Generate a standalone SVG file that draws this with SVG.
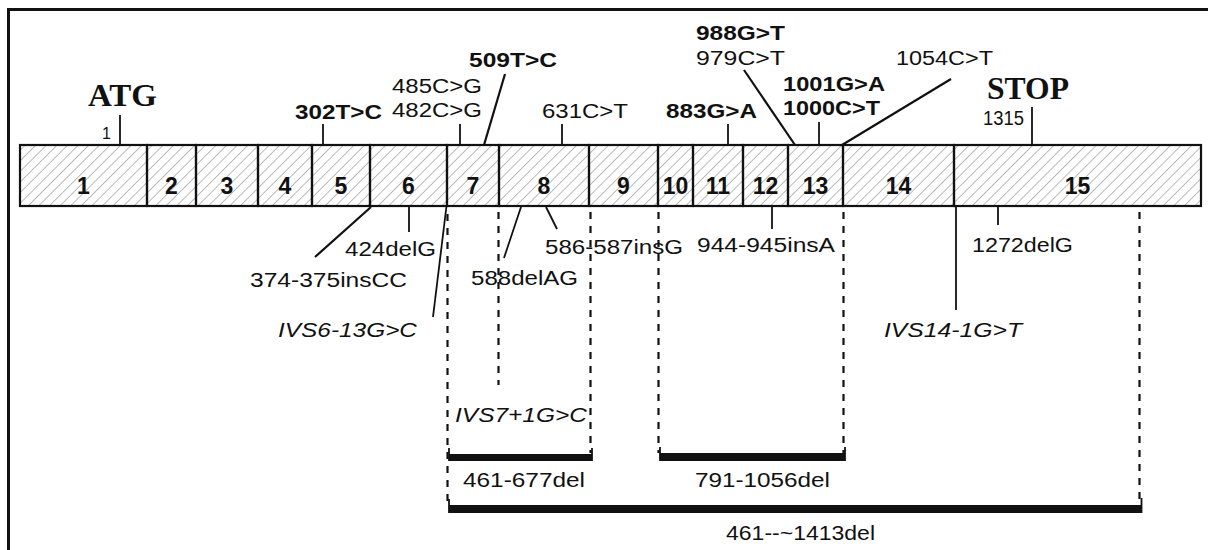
<svg xmlns="http://www.w3.org/2000/svg" width="1208" height="550" viewBox="0 0 1208 550">
<defs>
<pattern id="hatch" patternUnits="userSpaceOnUse" width="7.5" height="7.5" patternTransform="rotate(45)">
<line x1="0" y1="0" x2="0" y2="7.5" stroke="#777" stroke-width="1"/>
</pattern>
</defs>
<style>
.exon{fill:url(#hatch);stroke:#111;stroke-width:2.2}
.num{font-family:"Liberation Sans",Arial,sans-serif;font-weight:bold;font-size:23px;text-anchor:middle;fill:#111}
.lab{font-family:"Liberation Sans",Arial,sans-serif;font-size:20px;fill:#111}
.b{font-weight:bold;font-size:21px}
.i{font-style:italic}
.sm{font-size:16px}
.serif{font-family:"Liberation Serif","Times New Roman",serif;font-weight:bold;font-size:32px;fill:#111}
.tk{stroke:#111;stroke-width:1.8;fill:none}
.sl{stroke:#111;stroke-width:2.2;fill:none}
.dash{stroke:#111;stroke-width:2.2;stroke-dasharray:7 7;fill:none}
.bar{fill:#111}
.frame{stroke:#111;stroke-width:3;fill:none}
</style>
<rect width="1208" height="550" fill="#fff"/>
<path class="frame" d="M8.5 550 V9.5 H1208"/>

<g id="exons">
<g id="exon1"><rect class="exon" x="20" y="145" width="127" height="61"/><text class="num" x="83.5" y="194">1</text></g>
<g id="exon2"><rect class="exon" x="147" y="145" width="49" height="61"/><text class="num" x="171.5" y="194">2</text></g>
<g id="exon3"><rect class="exon" x="196" y="145" width="62" height="61"/><text class="num" x="227" y="194">3</text></g>
<g id="exon4"><rect class="exon" x="258" y="145" width="54" height="61"/><text class="num" x="285" y="194">4</text></g>
<g id="exon5"><rect class="exon" x="312" y="145" width="58" height="61"/><text class="num" x="341" y="194">5</text></g>
<g id="exon6"><rect class="exon" x="370" y="145" width="77" height="61"/><text class="num" x="408.5" y="194">6</text></g>
<g id="exon7"><rect class="exon" x="447" y="145" width="52" height="61"/><text class="num" x="473" y="194">7</text></g>
<g id="exon8"><rect class="exon" x="499" y="145" width="90" height="61"/><text class="num" x="544" y="194">8</text></g>
<g id="exon9"><rect class="exon" x="589" y="145" width="69" height="61"/><text class="num" x="623.5" y="194">9</text></g>
<g id="exon10"><rect class="exon" x="658" y="145" width="35" height="61"/><text class="num" x="675.5" y="194">10</text></g>
<g id="exon11"><rect class="exon" x="693" y="145" width="50" height="61"/><text class="num" x="718" y="194">11</text></g>
<g id="exon12"><rect class="exon" x="743" y="145" width="45" height="61"/><text class="num" x="765.5" y="194">12</text></g>
<g id="exon13"><rect class="exon" x="788" y="145" width="55" height="61"/><text class="num" x="815.5" y="194">13</text></g>
<g id="exon14"><rect class="exon" x="843" y="145" width="111" height="61"/><text class="num" x="898.5" y="194">14</text></g>
<g id="exon15"><rect class="exon" x="954" y="145" width="247" height="61"/><text class="num" x="1077.5" y="194">15</text></g>
</g>

<g id="connectors">
<line class="tk" x1="120" y1="115" x2="120" y2="145"/>
<line class="tk" x1="323" y1="124" x2="323" y2="145"/>
<line class="tk" x1="460" y1="124" x2="460" y2="145"/>
<line class="sl" x1="505" y1="74" x2="484" y2="145"/>
<line class="tk" x1="562" y1="124" x2="562" y2="145"/>
<line class="tk" x1="728" y1="124" x2="728" y2="145"/>
<line class="sl" x1="744" y1="70" x2="795" y2="145"/>
<line class="tk" x1="819" y1="122" x2="819" y2="145"/>
<line class="sl" x1="951" y1="79" x2="842" y2="145"/>
<line class="tk" x1="1032" y1="107" x2="1032" y2="145"/>
<line class="sl" x1="371" y1="207" x2="315" y2="257"/>
<line class="tk" x1="409" y1="206" x2="409" y2="232"/>
<line class="tk" x1="446.5" y1="206" x2="433" y2="317"/>
<line class="tk" x1="521" y1="207" x2="504" y2="258"/>
<line class="tk" x1="546" y1="207" x2="557" y2="229"/>
<line class="tk" x1="772" y1="206" x2="772" y2="229"/>
<line class="tk" x1="956" y1="206" x2="956" y2="310"/>
<line class="tk" x1="998" y1="206" x2="998" y2="225"/>
<line class="dash" x1="447.5" y1="214" x2="447.5" y2="504"/>
<line class="dash" x1="498.5" y1="212" x2="498.5" y2="385"/>
<line class="dash" x1="590.5" y1="212" x2="590.5" y2="453"/>
<line class="dash" x1="658.5" y1="212" x2="658.5" y2="453"/>
<line class="dash" x1="843.5" y1="212" x2="843.5" y2="453"/>
<line class="dash" x1="1139.5" y1="212" x2="1139.5" y2="504"/>
<rect class="bar" x="449" y="454" width="143" height="7"/>
<line class="tk" x1="449" y1="448" x2="449" y2="461"/>
<line class="tk" x1="592" y1="448" x2="592" y2="461"/>
<rect class="bar" x="660" y="453" width="185" height="8"/>
<line class="tk" x1="660" y1="447" x2="660" y2="461"/>
<line class="tk" x1="845" y1="447" x2="845" y2="461"/>
<rect class="bar" x="449" y="505" width="693" height="8"/>
<line class="tk" x1="449" y1="499" x2="449" y2="513"/>
<line class="tk" x1="1141.5" y1="498" x2="1141.5" y2="513"/>
</g>

<g id="labels">
<text class="serif" x="88" y="106" textLength="69" lengthAdjust="spacingAndGlyphs">ATG</text>
<text class="lab sm" x="102" y="139">1</text>
<text class="serif" x="987" y="99" textLength="82" lengthAdjust="spacingAndGlyphs">STOP</text>
<text class="lab" x="983" y="125" font-size="18" textLength="41" lengthAdjust="spacingAndGlyphs">1315</text>
<text class="lab b" x="295" y="119" textLength="87" lengthAdjust="spacingAndGlyphs">302T&gt;C</text>
<text class="lab" x="392" y="93" textLength="90" lengthAdjust="spacingAndGlyphs">485C&gt;G</text>
<text class="lab" x="392" y="117" textLength="90" lengthAdjust="spacingAndGlyphs">482C&gt;G</text>
<text class="lab b" x="469" y="67" textLength="88" lengthAdjust="spacingAndGlyphs">509T&gt;C</text>
<text class="lab" x="542" y="118" textLength="86" lengthAdjust="spacingAndGlyphs">631C&gt;T</text>
<text class="lab b" x="666" y="118" textLength="91" lengthAdjust="spacingAndGlyphs">883G&gt;A</text>
<text class="lab b" x="696" y="40" textLength="89" lengthAdjust="spacingAndGlyphs">988G&gt;T</text>
<text class="lab" x="696" y="65" textLength="89" lengthAdjust="spacingAndGlyphs">979C&gt;T</text>
<text class="lab b" x="783" y="91" textLength="102" lengthAdjust="spacingAndGlyphs">1001G&gt;A</text>
<text class="lab b" x="783" y="115" textLength="97" lengthAdjust="spacingAndGlyphs">1000C&gt;T</text>
<text class="lab" x="896" y="65" textLength="97" lengthAdjust="spacingAndGlyphs">1054C&gt;T</text>
<text class="lab" x="345" y="256" textLength="91" lengthAdjust="spacingAndGlyphs">424delG</text>
<text class="lab" x="250" y="287" textLength="157" lengthAdjust="spacingAndGlyphs">374-375insCC</text>
<text class="lab i" x="278" y="337" textLength="139" lengthAdjust="spacingAndGlyphs">IVS6-13G&gt;C</text>
<text class="lab" x="545" y="254" textLength="138" lengthAdjust="spacingAndGlyphs">586-587insG</text>
<text class="lab" x="471" y="285" textLength="107" lengthAdjust="spacingAndGlyphs">588delAG</text>
<text class="lab" x="697" y="252" textLength="138" lengthAdjust="spacingAndGlyphs">944-945insA</text>
<text class="lab" x="972" y="252" textLength="101" lengthAdjust="spacingAndGlyphs">1272delG</text>
<text class="lab i" x="884" y="337" textLength="138" lengthAdjust="spacingAndGlyphs">IVS14-1G&gt;T</text>
<text class="lab i" x="455" y="422" textLength="132" lengthAdjust="spacingAndGlyphs">IVS7+1G&gt;C</text>
<text class="lab" x="463" y="487" textLength="122" lengthAdjust="spacingAndGlyphs">461-677del</text>
<text class="lab" x="695" y="487" textLength="135" lengthAdjust="spacingAndGlyphs">791-1056del</text>
<text class="lab" x="726" y="540" textLength="149" lengthAdjust="spacingAndGlyphs">461--~1413del</text>
</g>
</svg>
